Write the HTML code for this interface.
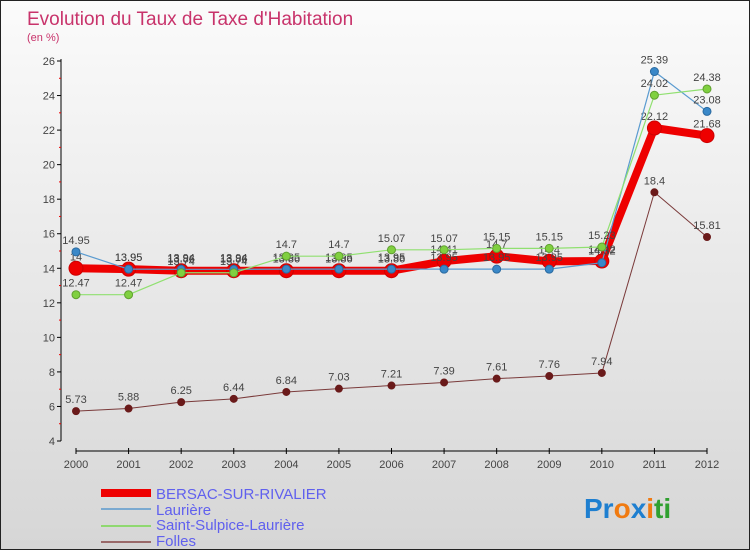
<!DOCTYPE html>
<html><head><meta charset="utf-8"><style>
body{margin:0}
#c{width:750px;height:550px;position:relative;background:linear-gradient(#fbfbfb,#d6d6d6);font-family:"Liberation Sans",sans-serif;overflow:hidden;box-sizing:border-box;border:1px solid #222}
</style></head><body>
<div id="c">
<svg id="s" width="750" height="550" style="position:absolute;left:0;top:0">
<text x="26" y="24" font-size="19" fill="#c8336b">Evolution du Taux de Taxe d'Habitation</text>
<text x="26" y="40" font-size="11" fill="#c8336b">(en %)</text>
<g id="ax"></g><g id="ser"></g>
<g font-size="15" fill="#6060ee">
<rect x="100" y="488" width="50" height="8" fill="#e00"/>
<text x="155" y="498">BERSAC-SUR-RIVALIER</text>
<rect x="100" y="507" width="50" height="2" fill="#7aa9d0"/>
<text x="155" y="514">Laurière</text>
<rect x="100" y="524" width="50" height="2" fill="#8fd870"/>
<text x="155" y="529">Saint-Sulpice-Laurière</text>
<rect x="100" y="540" width="50" height="2" fill="#9a6a6a"/>
<text x="155" y="545">Folles</text>
</g>
<text x="583" y="517" font-size="28" font-family="Liberation Sans" font-weight="bold"><tspan fill="#1e7fd0">Pr</tspan><tspan fill="#f07a10">o</tspan><tspan fill="#1e7fd0">x</tspan><tspan fill="#f07a10">i</tspan><tspan fill="#30a030">ti</tspan></text>
</svg>
</div>
<script>
const years=[2000,2001,2002,2003,2004,2005,2006,2007,2008,2009,2010,2011,2012];
const yTicks=[4,6,8,10,12,14,16,18,20,22,24,26];
const bersac=[14,13.95,13.86,13.86,13.86,13.86,13.86,14.41,14.7,14.4,14.42,22.12,21.68];
const lauriere=[14.95,13.95,13.94,13.94,13.95,13.95,13.95,13.95,13.95,13.95,14.32,25.39,23.08];
const sulpice=[12.47,12.47,13.74,13.74,14.7,14.7,15.07,15.07,15.15,15.15,15.23,24.02,24.38];
const folles=[5.73,5.88,6.25,6.44,6.84,7.03,7.21,7.39,7.61,7.76,7.94,18.4,15.81];
const NS="http://www.w3.org/2000/svg";
const X=i=>75+i*(706-75)/(years.length-1);
const Y=v=>440-(v-4)*(380/22);
function mk(t,a,p){const e=document.createElementNS(NS,t);for(const k in a)e.setAttribute(k,a[k]);p.appendChild(e);return e;}
const ax=document.getElementById('ax'),ser=document.getElementById('ser');
let l=mk('line',{x1:60,y1:58,x2:60,y2:440,stroke:'#000'},ax);


l=mk('line',{x1:75,y1:450,x2:706,y2:450,stroke:'#000'},ax);


yTicks.forEach(v=>{
 mk('line',{x1:56,y1:Y(v),x2:60,y2:Y(v),stroke:'#000'},ax);
 if(v<26)mk('line',{x1:58,y1:Y(v+1),x2:60,y2:Y(v+1),stroke:'#e00'},ax);
 const t=mk('text',{x:54,y:Y(v)+4,'font-size':11,fill:'#444','text-anchor':'end'},ax);t.textContent=v;
 
 
});
years.forEach((y,i)=>{
 mk('line',{x1:X(i),y1:447,x2:X(i),y2:453,stroke:'#000'},ax);
 const t=mk('text',{x:X(i),y:467,'font-size':11,fill:'#444','text-anchor':'middle'},ax);t.textContent=y;
 
 
});
function series(d,name,col,w,r,dot,stroke){
 const g=mk('g',{},ser);
 
 
 mk('polyline',{points:d.map((v,i)=>X(i)+','+Y(v)).join(' '),fill:'none',stroke:col,'stroke-width':w,'stroke-linejoin':'round'},g);
 d.forEach((v,i)=>{
  const c=mk('circle',{cx:X(i),cy:Y(v),r:r,fill:dot,stroke:stroke,'stroke-width':1},g);
  
  
  const t=mk('text',{x:X(i),y:Y(v)-8,'font-size':11,fill:'#444','text-anchor':'middle'},g);t.textContent=v;
 });
}
series(folles,'folles','#7a3a3a',1,3.5,'#6a1a1a','#6a1a1a');
series(bersac,'bersac','#ee0000',8,7,'#ee0000','#c00');
series(lauriere,'lauriere','#5a9bd0',1.2,4,'#3a88c8','#2a6aa0');
series(sulpice,'saint-sulpice','#90e070',1.2,4,'#80d040','#60a030');
</script>
</body></html>
